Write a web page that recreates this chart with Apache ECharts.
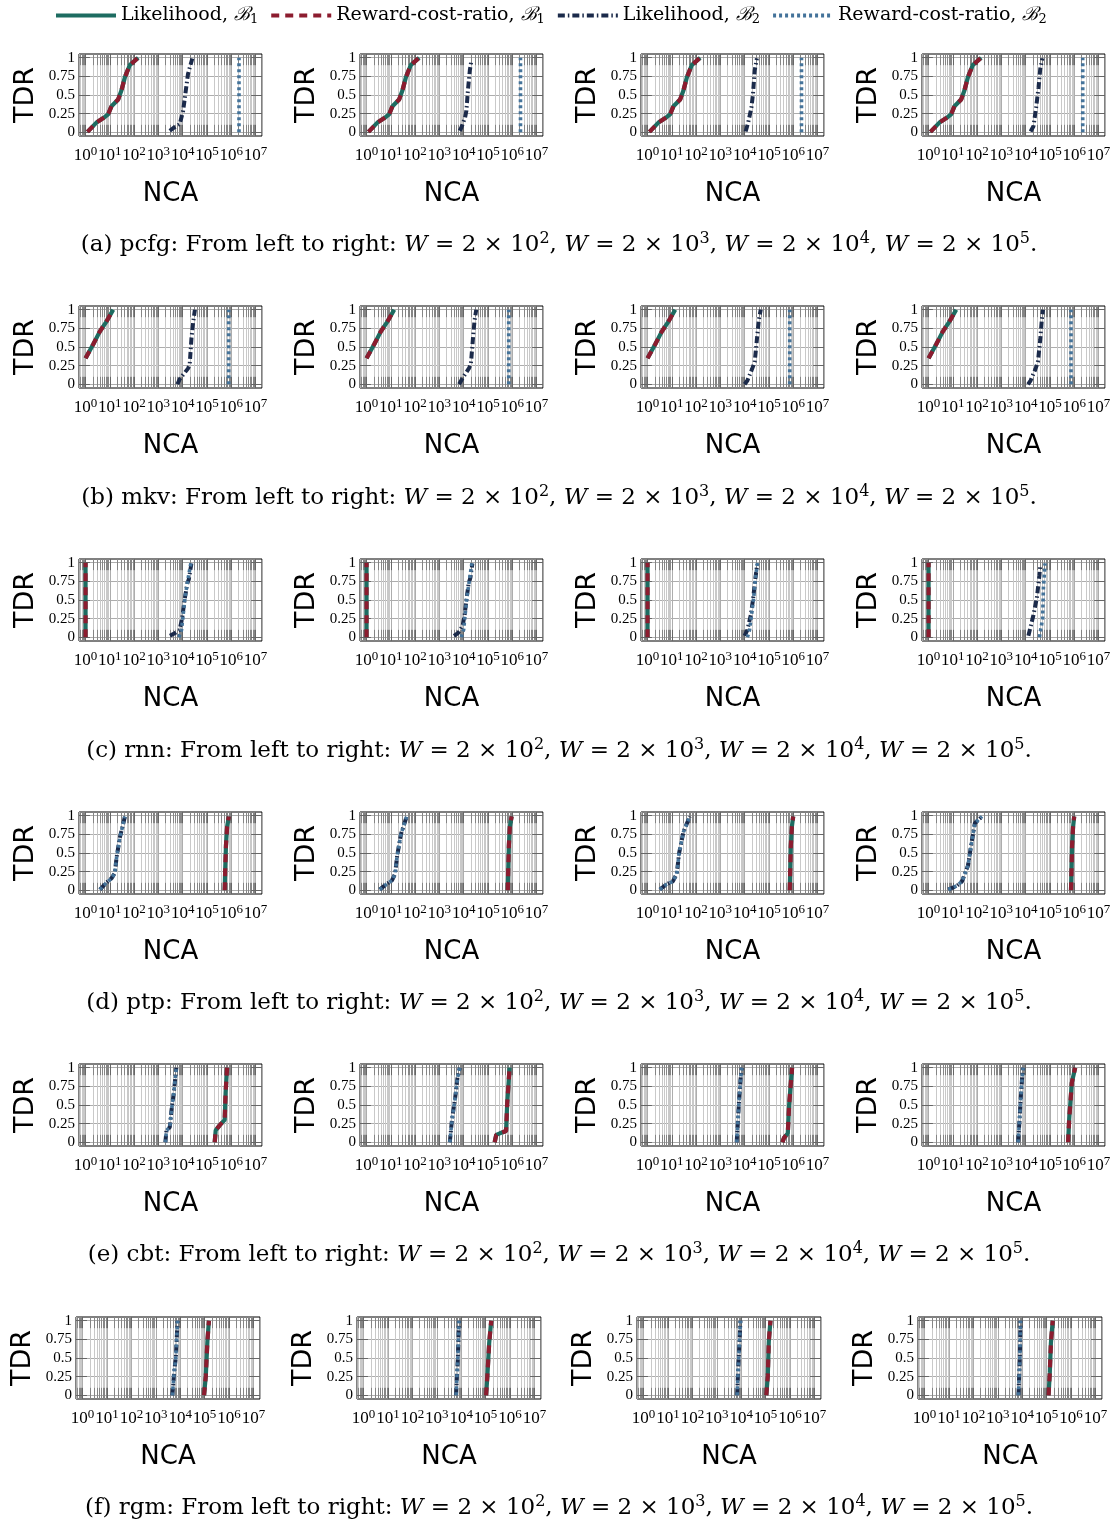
<!DOCTYPE html>
<html><head><meta charset="utf-8">
<script src="https://cdn.jsdelivr.net/npm/echarts@6/dist/echarts.min.js"></script>
<style>html,body{margin:0;padding:0;background:#fff}#c{width:1118px;height:1523px}</style>
</head><body><div id="c"></div>
<script>
// ---------------- DATA ----------------
const datasetNames = ['pcfg', 'mkv', 'rnn', 'ptp', 'cbt', 'rgm'];
const captionLetters = ['a', 'b', 'c', 'd', 'e', 'f'];
const windowExponents = ['2', '3', '4', '5'];          // W = 2 x 10^k
const xTickExponents = [0, 1, 2, 3, 4, 5, 6, 7];
const minorMultipliers = [2, 3, 4, 5, 6, 7, 8, 9];
const yTickValues = [0, 0.25, 0.5, 0.75, 1];
const yTickLabels = ['0', '0.25', '0.5', '0.75', '1'];
const seriesNames = ['Likelihood, B1', 'Reward-cost-ratio, B1', 'Likelihood, B2', 'Reward-cost-ratio, B2'];

// pcfg  [NCA, TDR]
const pcfgB1 = [[1.2,0.005],[2.8,0.13],[5.4,0.19],[8.5,0.24],[11.7,0.35],[22,0.44],[30,0.56],[42,0.74],[66,0.9],[148,1.0]];
const pcfgLik1 = [pcfgB1, pcfgB1, pcfgB1, pcfgB1];
const pcfgRcr1 = [pcfgB1, pcfgB1, pcfgB1, pcfgB1];
const pcfgLik2 = [
  [[2950,0.02],[4270,0.06],[7600,0.11],[10500,0.29],[13500,0.56],[16600,0.78],[25000,0.99]],
  [[6900,0.02],[8000,0.06],[11500,0.2],[13000,0.29],[15000,0.56],[18000,0.83],[21000,0.97]],
  [[11000,0.01],[14000,0.13],[19000,0.33],[22000,0.51],[26000,0.83],[32000,0.99]],
  [[16000,0.01],[21000,0.08],[27000,0.33],[34000,0.6],[40000,0.85],[49000,0.99]]
];
const pcfgRcr2 = [
  [[2.1e6,0],[2.1e6,1]], [[2.2e6,0],[2.2e6,1]], [[2.2e6,0],[2.2e6,1]], [[2.25e6,0],[2.25e6,1]]
];

// mkv
const mkvB1 = [[1.0,0.35],[2.1,0.54],[3.9,0.71],[6.9,0.83],[13.8,1.0]];
const mkvLik1 = [mkvB1, mkvB1, mkvB1, mkvB1];
const mkvRcr1 = [mkvB1, mkvB1, mkvB1, mkvB1];
const mkvLik2 = [
  [[6100,0],[7600,0.07],[16500,0.21],[19500,0.26],[23000,0.61],[27000,0.83],[32000,1.0]],
  [[6500,0],[9000,0.08],[17000,0.22],[20000,0.28],[24000,0.6],[28000,0.85],[33000,1.0]],
  [[10000,0],[13000,0.05],[20000,0.2],[26000,0.3],[32000,0.6],[38000,0.85],[46000,1.0]],
  [[12500,0],[16000,0.05],[25000,0.2],[32000,0.3],[40000,0.6],[46000,0.85],[52000,1.0]]
];
const mkvRcr2 = [
  [[7.9e5,0],[7.9e5,1]], [[7.2e5,0],[7.2e5,1]], [[7.2e5,0],[7.2e5,1]], [[7.4e5,0],[7.4e5,1]]
];

// rnn
const rnnB1 = [[1,0],[1,1]];
const rnnLik1 = [rnnB1, rnnB1, rnnB1, rnnB1];
const rnnRcr1 = [rnnB1, rnnB1, rnnB1, rnnB1];
const rnnLik2 = [
  [[3000,0.02],[4500,0.05],[7500,0.1],[9500,0.25],[12000,0.5],[15500,0.72],[18000,0.78],[23000,0.99]],
  [[4000,0.02],[6000,0.06],[9000,0.15],[11000,0.3],[13000,0.5],[16000,0.72],[19000,0.8],[23000,0.99]],
  [[10000,0.02],[13000,0.1],[18000,0.3],[22000,0.5],[28000,0.8],[33000,0.98]],
  [[13000,0.02],[21000,0.3],[29000,0.53],[37000,0.83],[40000,0.97]]
];
const rnnRcr2 = [
  [[7000,0],[9000,0.1],[10500,0.3],[12500,0.53],[16000,0.75],[22000,1.0]],
  [[8000,0],[10000,0.1],[11500,0.3],[13500,0.53],[17000,0.75],[22000,1.0]],
  [[13000,0],[16000,0.1],[20000,0.35],[24000,0.55],[28000,0.8],[34000,1.0]],
  [[37000,0],[50000,0.25],[54000,0.66],[63000,0.99]]
];

// ptp
const ptpLik1 = [
  [[540000,0],[570000,0.3],[610000,0.6],[680000,0.85],[800000,0.99]],
  [[660000,0],[690000,0.3],[730000,0.6],[800000,0.85],[950000,0.99]],
  [[720000,0],[760000,0.3],[800000,0.6],[880000,0.85],[1000000,0.99]],
  [[740000,0],[780000,0.3],[820000,0.6],[900000,0.85],[1000000,0.99]]
];
const ptpRcr1 = ptpLik1;
const ptpLik2 = [
  [[3.9,0.01],[7.2,0.1],[11.7,0.16],[16,0.23],[19,0.44],[26,0.71],[42,0.99]],
  [[3.5,0.01],[6.5,0.08],[11,0.13],[15,0.22],[18,0.45],[26,0.75],[45,0.99]],
  [[3.2,0.01],[6,0.08],[11,0.12],[16,0.22],[20,0.5],[30,0.78],[55,0.99]],
  [[6.5,0.01],[15,0.06],[24,0.12],[42,0.33],[60,0.65],[81,0.9],[160,0.99]]
];
const ptpRcr2 = ptpLik2;

// cbt
const cbtLik1 = [
  [[210000,0],[230000,0.16],[340000,0.23],[540000,0.3],[590000,0.67],[680000,1.0]],
  [[190000,0],[220000,0.1],[310000,0.12],[560000,0.15],[620000,0.5],[780000,1.0]],
  [[360000,0],[420000,0.06],[600000,0.12],[680000,0.5],[900000,1.0]],
  [[560000,0],[620000,0.3],[800000,0.8],[1100000,1.0]]
];
const cbtRcr1 = cbtLik1;
const cbtLik2 = [
  [[1950,0],[2150,0.16],[2950,0.2],[3500,0.44],[4350,0.67],[5500,1.0]],
  [[2700,0],[3300,0.3],[4500,0.6],[5500,0.85],[6900,1.0]],
  [[4700,0],[5300,0.3],[6000,0.6],[6800,0.85],[7600,1.0]],
  [[4900,0],[5600,0.3],[6300,0.6],[7100,0.85],[7900,1.0]]
];
const cbtRcr2 = cbtLik2;

// rgm
const rgmLik1 = [
  [[95000,0],[112000,0.26],[130000,0.72],[150000,1.0]],
  [[105000,0],[120000,0.3],[140000,0.7],[170000,1.0]],
  [[107000,0],[123000,0.26],[135000,0.72],[158000,1.0]],
  [[120000,0],[135000,0.3],[150000,0.7],[178000,1.0]]
];
const rgmRcr1 = rgmLik1;
const rgmLik2 = [
  [[4800,0],[5600,0.3],[6600,0.5],[7800,1.0]],
  [[6200,0],[6800,0.3],[7300,0.5],[8100,1.0]],
  [[6800,0],[7400,0.3],[7900,0.5],[9300,1.0]],
  [[7000,0],[7600,0.3],[8000,0.5],[8500,1.0]]
];
const rgmRcr2 = rgmLik2;

// ---------------- LAYOUT / STYLE ----------------
const rowData = [
  [pcfgLik1, pcfgRcr1, pcfgLik2, pcfgRcr2],
  [mkvLik1, mkvRcr1, mkvLik2, mkvRcr2],
  [rnnLik1, rnnRcr1, rnnLik2, rnnRcr2],
  [ptpLik1, ptpRcr1, ptpLik2, ptpRcr2],
  [cbtLik1, cbtRcr1, cbtLik2, cbtRcr2],
  [rgmLik1, rgmRcr1, rgmLik2, rgmRcr2]
];
const rowTops = [54, 306, 559, 812, 1064, 1317];
const colLeftsStd = [79, 360, 641, 922];
const colLeftsLast = [76, 357, 637, 918];
const captionCenters = [242, 495, 748, 1000, 1252, 1505];
const BOX_W = 183, BOX_H = 82;
const X_MIN = Math.pow(10, -0.27), X_MAX = Math.pow(10, 7.27);
const Y_MIN = -0.05, Y_MAX = 1.05;

const COLORS = ['#1d6c61', '#8c1c2f', '#1b2a4a', '#44739a'];
const TYPES = ['solid', [8, 6], [7, 3, 1.5, 3], [3, 3]];
const WIDTHS = [4.2, 4.2, 4, 3.6];

const SERIF = "'Liberation Serif', 'DejaVu Serif', serif";
const CAPSERIF = "'DejaVu Serif', 'Liberation Serif', serif";
const SANS = "'DejaVu Sans', sans-serif";

const grids = [], xAxes = [], yAxes = [], series = [], titles = [];

function xLabel(v) {
  const k = Math.log10(v);
  const rk = Math.round(k);
  if (Math.abs(k - rk) > 1e-6 || xTickExponents.indexOf(rk) < 0) return '';
  return '{b|10}{s|' + rk + '}';
}
function yLabel(v) {
  for (let i = 0; i < yTickValues.length; i++) {
    if (Math.abs(v - yTickValues[i]) < 1e-6) return yTickLabels[i];
  }
  return '';
}

// grid decoration lines (minor grid, tick marks)
const minorVals = [], majorVals = [];
for (let k = -1; k <= 7; k++) {
  minorMultipliers.forEach(m => {
    const v = m * Math.pow(10, k);
    if (v > X_MIN && v < X_MAX) minorVals.push(v);
  });
  const mv = Math.pow(10, k);
  if (mv > X_MIN && mv < X_MAX) majorVals.push(mv);
}
const TICK = 0.15;
function gridMarkLines() {
  const d = [];
  const minorGrid = {color: '#c9c9c9', width: 1, type: 'solid'};
  const tickStyle = {color: '#858585', width: 1, type: 'solid'};
  const majorTick = {color: '#666666', width: 1, type: 'solid'};
  minorVals.forEach(v => {
    d.push({xAxis: v, lineStyle: minorGrid});
  });
  minorVals.forEach(v => {
    d.push([{coord: [v, Y_MIN], lineStyle: tickStyle}, {coord: [v, Y_MIN + TICK]}]);
    d.push([{coord: [v, Y_MAX - TICK], lineStyle: tickStyle}, {coord: [v, Y_MAX]}]);
  });
  majorVals.forEach(v => {
    d.push([{coord: [v, Y_MIN], lineStyle: majorTick}, {coord: [v, Y_MIN + TICK]}]);
    d.push([{coord: [v, Y_MAX - TICK], lineStyle: majorTick}, {coord: [v, Y_MAX]}]);
  });
  const xl = Math.pow(10, -0.27 + 0.45), xr = Math.pow(10, 7.27 - 0.45);
  yTickValues.forEach(y => {
    d.push([{coord: [X_MIN, y], lineStyle: majorTick}, {coord: [xl, y]}]);
    d.push([{coord: [xr, y], lineStyle: majorTick}, {coord: [X_MAX, y]}]);
  });
  return d;
}

for (let r = 0; r < 6; r++) {
  const lefts = r === 5 ? colLeftsLast : colLeftsStd;
  const w = r === 5 ? 184 : BOX_W;
  for (let c = 0; c < 4; c++) {
    const idx = r * 4 + c;
    grids.push({left: lefts[c], top: rowTops[r], width: w, height: BOX_H, show: true,
      borderColor: '#000', borderWidth: 1, backgroundColor: 'transparent', containLabel: false});
    xAxes.push({
      type: 'log', logBase: 10, gridIndex: idx, min: X_MIN, max: X_MAX,
      axisLine: {show: false}, axisTick: {show: false},
      splitLine: {show: true, lineStyle: {color: '#adadad', width: 1}},
      axisLabel: {formatter: xLabel, margin: 9, color: '#000', fontFamily: SERIF,
        rich: {b: {fontSize: 17, fontFamily: SERIF, color: '#000'},
               s: {fontSize: 13, fontFamily: SERIF, color: '#000', padding: [0, 0, 9, 0]}}},
      name: 'NCA', nameLocation: 'middle', nameGap: 45,
      nameTextStyle: {fontFamily: SANS, fontSize: 26, color: '#000'}
    });
    yAxes.push({
      type: 'value', gridIndex: idx, min: Y_MIN, max: Y_MAX, interval: 0.05,
      axisLine: {show: false}, axisTick: {show: false},
      splitLine: {show: true, lineStyle: {color: ['rgba(0,0,0,0)', '#adadad', 'rgba(0,0,0,0)', 'rgba(0,0,0,0)', 'rgba(0,0,0,0)'], width: 1}},
      axisLabel: {formatter: yLabel, margin: 4, color: '#000', fontFamily: SERIF, fontSize: 15},
      name: 'TDR', nameLocation: 'middle', nameGap: 40,
      nameTextStyle: {fontFamily: SANS, fontSize: 27, color: '#000'}
    });
    series.push({
      type: 'line', xAxisIndex: idx, yAxisIndex: idx, data: [], silent: true, z: 1,
      markLine: {z: 1, silent: true, symbol: ['none', 'none'], label: {show: false}, animation: false,
        data: gridMarkLines()}
    });
    for (let s = 0; s < 4; s++) {
      series.push({
        name: seriesNames[s], type: 'line', xAxisIndex: idx, yAxisIndex: idx,
        data: rowData[r][s][c], symbol: 'none', clip: false, silent: true, z: 10 + s,
        lineStyle: {color: COLORS[s], width: WIDTHS[s], type: TYPES[s]},
        itemStyle: {color: COLORS[s]}
      });
    }
  }
  const parts = windowExponents.map(k => '{i|W}{n| = 2 × 10}{sup|' + k + '}').join('{n|, }');
  titles.push({
    text: '{n|(' + captionLetters[r] + ') ' + datasetNames[r] + ': From left to right: }' + parts + '{n|.}',
    left: 'center', top: captionCenters[r] - 16,
    textStyle: {fontFamily: CAPSERIF, fontSize: 23, fontWeight: 'normal', color: '#000',
      rich: {n: {fontFamily: CAPSERIF, fontSize: 23, color: '#000'},
             i: {fontFamily: CAPSERIF, fontSize: 23, fontStyle: 'italic', color: '#000'},
             sup: {fontFamily: CAPSERIF, fontSize: 16, color: '#000', padding: [0, 0, 12, 0]}}}
  });
}

const legendLabel = {
  'Likelihood, B1': '{t|Likelihood, }{c|ℬ}{s|1}',
  'Reward-cost-ratio, B1': '{t|Reward-cost-ratio, }{c|ℬ}{s|1}',
  'Likelihood, B2': '{t|Likelihood, }{c|ℬ}{s|2}',
  'Reward-cost-ratio, B2': '{t|Reward-cost-ratio, }{c|ℬ}{s|2}'
};

const chart = echarts.init(document.getElementById('c'), null, {renderer: 'canvas'});
chart.setOption({
  animation: false,
  backgroundColor: '#fff',
  title: titles,
  legend: {
    data: seriesNames, top: 1, left: 49, itemWidth: 60, itemHeight: 14, itemGap: 11,
    itemStyle: {color: 'rgba(0,0,0,0)', borderWidth: 0, opacity: 0},
    lineStyle: {width: 4},
    formatter: n => legendLabel[n],
    textStyle: {fontFamily: CAPSERIF, fontSize: 19, color: '#000',
      rich: {t: {fontFamily: CAPSERIF, fontSize: 19, color: '#000'},
             c: {fontFamily: CAPSERIF, fontSize: 19, fontStyle: 'italic', color: '#000'},
             s: {fontFamily: CAPSERIF, fontSize: 13, color: '#000', padding: [8, 0, 0, 0]}}}
  },
  grid: grids, xAxis: xAxes, yAxis: yAxes, series: series
});
</script></body></html>
